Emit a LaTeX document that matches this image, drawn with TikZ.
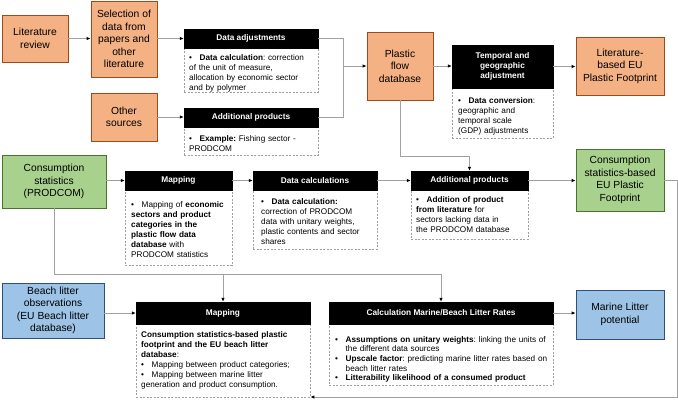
\documentclass[tikz,border=0pt]{standalone}
\usepackage{fontspec}
\setmainfont{Liberation Sans}
\usetikzlibrary{arrows.meta,calc}
\definecolor{orF}{HTML}{F4B183}
\definecolor{orB}{HTML}{9A4A1C}
\definecolor{grF}{HTML}{A9D18E}
\definecolor{grB}{HTML}{4A7330}
\definecolor{blF}{HTML}{9DC3E6}
\definecolor{blB}{HTML}{2E4F7E}
\definecolor{lineC}{HTML}{A0A0A0}
\frenchspacing
\newcommand\boxfont{\fontsize{10.3}{12.5}\selectfont}
\newcommand\hfont{\fontsize{8.3}{10}\selectfont\bfseries}
\newcommand\tfont{\fontsize{8.2}{10}\selectfont\raggedright\frenchspacing}
\newcommand\bul{\par\hangindent=10.5pt\hangafter=1\noindent\hbox to 10.5pt{•\hfil}}
% box from corners: style, name, x1, y1, x2, y2, text
\newcommand\bx[7]{\node[#1, minimum width={(#5)-(#3)}, minimum height={(#6)-(#4)}] (#2) at ({((#3)+(#5))/2},{((#4)+(#6))/2}) {#7};}
\tikzset{
 cbox/.style={inner sep=0pt, line width=0.8pt, align=center, font=\boxfont},
 obox/.style={cbox, draw=orB, fill=orF},
 gbox/.style={cbox, draw=grB, fill=grF},
 bbox/.style={cbox, draw=blB, fill=blF},
 hdr/.style={inner sep=0pt, fill=black, draw=black, text=white, font=\hfont, align=center},
 dbox/.style={inner sep=0pt, draw=gray!75, line width=0.7pt, dash pattern=on 2pt off 1.5pt},
 txt/.style={anchor=north west, inner sep=0pt, text width=#1, font=\tfont},
 cline/.style={draw=lineC, line width=0.8pt},
 conn/.style={cline, -{Latex[length=4pt,width=3.5pt,color=black]}},
}
\begin{document}
\begin{tikzpicture}[x=1pt,y=-1pt]
\useasboundingbox (0,0) rectangle (678,400);
% coloured boxes
\bx{obox}{lit}{2}{15}{68}{62}{Literature\\review}
\bx{obox}{sel}{91}{1}{157}{77}{Selection of\\data from\\papers and\\other\\literature}
\bx{obox}{other}{91}{93}{157}{141}{Other\\sources}
\bx{obox}{pfd}{367}{32}{433}{100}{Plastic\\flow\\database}
\bx{obox}{litEU}{576}{37}{664}{95}{Literature-\\based EU\\Plastic Footprint}
\bx{gbox}{cons}{2}{155}{106}{208}{Consumption\\statistics\\(PRODCOM)}
\bx{gbox}{consEU}{576}{149}{664}{211}{Consumption\\statistics-based\\EU Plastic\\Footprint}
\bx{bbox}{beach}{2}{283}{104}{338}{Beach litter\\observations\\(EU Beach litter\\database)}
\bx{bbox}{marine}{576}{290}{664}{339}{Marine Litter\\potential}
% dashed boxes
\bx{dbox}{dad}{184}{48}{318}{92}{}
\bx{dbox}{apd}{184}{127}{318}{155}{}
\bx{dbox}{tgd}{452}{88}{553}{138}{}
\bx{dbox}{mapd}{125}{190}{232}{265}{}
\bx{dbox}{dcd}{253}{190}{377}{249}{}
\bx{dbox}{ap2d}{411}{190}{528}{239}{}
\bx{dbox}{map3d}{136}{324}{310}{397}{}
\bx{dbox}{calcd}{329}{324}{553}{385}{}
% headers
\bx{hdr}{dah}{184}{29}{318}{48}{Data adjustments}
\bx{hdr}{aph}{184}{108}{318}{127}{Additional products}
\bx{hdr}{tgh}{452}{45}{553}{88}{Temporal and\\geographic\\adjustment}
\bx{hdr}{maph}{125}{171}{232}{190}{Mapping}
\bx{hdr}{dch}{253}{171}{377}{190}{Data calculations}
\bx{hdr}{aph2}{411}{171}{528}{190}{Additional products}
\bx{hdr}{map3h}{136}{302}{310}{324}{Mapping}
\bx{hdr}{calch}{329}{302}{553}{324}{Calculation Marine/Beach Litter Rates}
% texts
\node[txt=150] (dat) at (189,50.5) {\bul\textbf{Data calculation}: correction\newline of the unit of measure,\newline allocation by economic sector\newline and by polymer};
\node[txt=150] (apt) at (189,131) {\bul\textbf{Example:} Fishing sector -\newline PRODCOM};
\node[txt=120] (tgt) at (458,93.5) {\bul\textbf{Data conversion}:\newline geographic and\newline temporal scale\newline (GDP) adjustments};
\node[txt=130] (mapt) at (131,197.5) {\bul Mapping of \textbf{economic\newline sectors and product\newline categories in the\newline plastic flow data\newline database} with\newline PRODCOM statistics};
\node[txt=140] (dct) at (261,194) {\bul\textbf{Data calculation:}\newline correction of PRODCOM\newline data with unitary weights,\newline plastic contents and sector\newline shares};
\node[txt=140] (ap2t) at (416,192.5) {\bul\textbf{Addition of product\newline from literature} for\newline sectors lacking data in\newline the PRODCOM database};
\node[txt=200] (map3t) at (141,331.5) {\noindent\textbf{Consumption statistics-based plastic\newline footprint and the EU beach litter\newline database}:\bul Mapping between product categories;\bul Mapping between marine litter\newline generation and product consumption.};
\node[txt=250, font=\fontsize{8.2}{9.6}\selectfont\raggedright] (calct) at (335,332.5) {\bul\textbf{Assumptions on unitary weights}: linking the units of\newline the different data sources\bul\textbf{Upscale factor}: predicting marine litter rates based on\newline beach litter rates\bul\textbf{Litterability likelihood of a consumed product}};
% connectors
\coordinate (j1) at (343,66);
\coordinate (j2) at (400,156);
\coordinate (j3) at (441,274);
\coordinate (j4) at (677,397);
\draw[conn] (lit.east) -- (lit.east -| sel.west);
\draw[conn] (sel.east |- dah.west) -- (dah.west);
\draw[conn] (other.east) -- (other.east -| aph.west);
\draw[cline] (dah.east) -| (j1);
\draw[cline] (aph.east) -| (j1);
\draw[conn] (j1) -- (j1 -| pfd.west);
\draw[conn] (pfd.east) -- (pfd.east -| tgh.west);
\draw[conn] (tgh.east) -- (tgh.east -| litEU.west);
\draw[conn] (pfd.south) -- (j2) -| (aph2.north);
\draw[conn] (cons.east |- maph.west) -- (maph.west);
\draw[conn] (maph.east) -- (maph.east -| dch.west);
\draw[conn] (dch.east) -- (dch.east -| aph2.west);
\draw[conn] (aph2.east) -- (aph2.east -| consEU.west);
\draw[conn] (cons.south) |- (j3) -- (calch.north);
\draw[conn] (map3h.north |- j3) -- (map3h.north);
\draw[conn] (beach.east |- map3h.west) -- (map3h.west);
\draw[conn] (calch.east) -- (calch.east -| marine.west);
\draw[conn] (consEU.east) -| (j4) -- (j4 -| map3d.east);
\end{tikzpicture}
\end{document}
